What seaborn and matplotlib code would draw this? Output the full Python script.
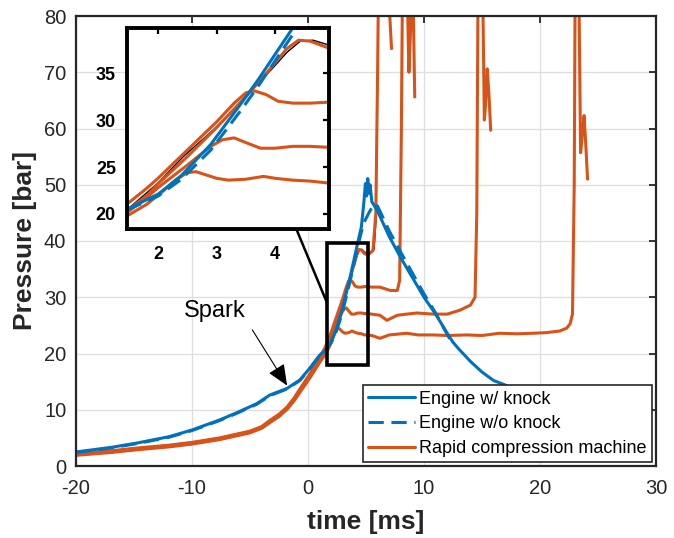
import matplotlib
matplotlib.use("Agg")
import matplotlib.pyplot as plt
import seaborn as sns
from matplotlib.lines import Line2D
from matplotlib.patches import Rectangle

# ---------------- data ----------------
# Engine with knock (solid blue)
t_knock = [-20, -17, -14.7, -12, -10, -7.6, -6, -4.4, -3.3, -1.8, -0.7, 0.2, 1.0, 1.5,
           2.0, 2.4, 2.9, 3.4, 3.7, 4.0, 4.3, 4.6, 4.8, 4.95, 5.05, 5.15, 5.25, 5.35, 5.5,
           6.0, 7.0, 8.0, 9.0, 10.0, 11.0, 12.0, 12.5, 13.0, 14.0, 15.0, 16.0, 17.0, 18.0]
p_knock = [2.5, 3.3, 4.1, 5.2, 6.4, 8.2, 9.6, 11.1, 12.6, 13.8, 15.3, 17.5, 19.7, 20.6,
           22.1, 24.1, 27.4, 31.6, 34.2, 37.0, 39.8, 42.5, 46.5, 50.2, 48.0, 51.1, 48.5, 50.0, 47.0,
           45.3, 40.8, 37.0, 33.5, 30.0, 27.0, 23.6, 22.0, 20.8, 18.6, 16.7, 15.2, 14.4, 13.2]

# Engine without knock (dashed blue)
t_noknock = [-20, -17, -14.7, -12, -10, -7.6, -6, -4.4, -3.3, -1.8, -0.7, 0.2, 1.0, 1.5,
             2.0, 2.4, 2.9, 3.4, 3.7, 4.0, 4.3, 4.6, 4.9, 5.3, 5.7, 6.0,
             7.0, 8.0, 9.0, 10.0, 11.0, 12.0, 12.3]
p_noknock = [2.4, 3.2, 4.0, 5.1, 6.3, 8.1, 9.5, 11.0, 12.5, 13.7, 15.2, 17.4, 19.6, 20.5,
             21.9, 23.7, 26.8, 30.9, 33.5, 36.3, 39.1, 41.6, 43.6, 45.2, 46.6, 46.2,
             41.8, 38.0, 34.3, 30.6, 27.2, 23.4, 22.3]

# Rapid compression machine runs (orange)
t_rcm1 = [-20, -17, -14.7, -12, -10, -7.6, -5, -4, -3.3, -2.5, -1.8, -1.2, -0.7, 0.2, 1.0, 1.5,
          1.8, 2.1, 2.3, 2.5, 2.65, 2.8, 3.0, 3.2, 3.5, 3.8, 4.0, 4.3, 4.6, 4.9,
          5.5, 6.2, 7.0, 8.5, 9.5, 10.8, 12.0, 13.7, 15.0, 16.5, 18.0, 19.4, 20.5,
          21.7, 22.3, 22.6, 22.8, 22.95, 23.1, 23.3, 23.5, 23.65, 23.8, 23.95, 24.1]
p_rcm1 = [1.9, 2.4, 2.9, 3.4, 3.9, 4.7, 5.9, 6.7, 7.7, 8.8, 10.1, 11.6, 13.1, 15.8, 18.4, 19.9,
          21.0, 22.5, 23.6, 24.4, 24.5, 24.2, 23.8, 23.6, 23.7, 24.0, 23.8, 23.6, 23.5, 23.3,
          23.2, 22.7, 23.3, 23.6, 23.3, 23.3, 23.2, 23.3, 23.2, 23.6, 23.5, 23.6, 23.7,
          24.0, 24.5, 25.3, 27.0, 50.0, 115.0, 95.0, 55.7, 59.0, 62.3, 57.0, 51.0]

t_rcm2 = [-20, -17, -14.7, -12, -10, -7.6, -5, -4, -3.3, -2.5, -1.8, -1.2, -0.7, 0.2, 1.0, 1.5,
          1.8, 2.0, 2.5, 2.9, 3.1, 3.3, 3.5, 3.75, 4.0, 4.3, 4.6, 4.9,
          5.5, 6.2, 6.8, 7.7, 8.5, 9.4, 10.8, 12.0, 13.1, 14.0, 14.4,
          14.55, 14.7, 14.85, 15.0, 15.2, 15.3, 15.45, 15.6, 15.75]
p_rcm2 = [2.0, 2.5, 3.0, 3.5, 4.0, 4.8, 6.0, 6.8, 7.8, 8.9, 10.2, 11.7, 13.2, 15.9, 18.6, 20.3,
          21.7, 22.8, 25.2, 27.2, 27.9, 28.1, 27.6, 27.0, 27.0, 27.2, 27.2, 27.1,
          27.0, 26.8, 25.9, 26.8, 27.0, 27.2, 27.0, 27.0, 27.7, 28.6, 30.0,
          45.0, 100.0, 110.0, 95.0, 61.5, 64.0, 70.6, 66.0, 59.7]

t_rcm3 = [-20, -17, -14.7, -12, -10, -7.6, -5, -4, -3.3, -2.5, -1.8, -1.2, -0.7, 0.2, 1.0, 1.5,
          1.8, 2.0, 2.5, 3.0, 3.3, 3.5, 3.65, 3.85, 4.05, 4.3, 4.6, 4.9,
          5.5, 6.2, 7.1, 7.7, 7.9, 8.05, 8.2, 8.4, 8.55, 8.7, 8.85, 8.95, 9.05, 9.2]
p_rcm3 = [2.2, 2.7, 3.2, 3.7, 4.2, 5.0, 6.2, 7.0, 8.1, 9.2, 10.5, 12.1, 13.7, 16.5, 19.2, 21.2,
          22.7, 23.8, 26.8, 29.8, 31.8, 32.9, 33.1, 32.7, 32.0, 31.8, 31.8, 31.9,
          31.8, 31.8, 31.2, 31.2, 33.0, 60.0, 100.0, 110.0, 85.0, 70.0, 78.0, 95.0, 85.0, 65.6]

t_rcm4 = [-20, -17, -14.7, -12, -10, -7.6, -5, -4, -3.3, -2.5, -1.8, -1.2, -0.7, 0.2, 1.0, 1.5,
          1.8, 2.0, 2.5, 3.0, 3.5, 3.8, 4.0, 4.2, 4.4, 4.6, 4.9,
          5.2, 5.6, 5.85, 6.0, 6.15, 6.6, 7.05, 7.2]
p_rcm4 = [2.1, 2.6, 3.1, 3.6, 4.1, 4.9, 6.1, 6.9, 7.9, 9.0, 10.3, 11.8, 13.4, 16.1, 18.8, 20.5,
          21.9, 23.2, 26.1, 29.2, 32.5, 34.6, 36.1, 37.6, 38.5, 38.4, 37.7,
          37.6, 38.3, 45.0, 70.0, 100.0, 110.0, 80.0, 74.2]

# thin black trace visible in the zoom
t_black = [1.5, 2.0, 2.43, 2.9, 3.29, 3.6, 3.97, 4.2, 4.43, 4.65, 4.91, 5.3, 5.7, 5.9]
p_black = [20.6, 23.3, 26.1, 28.7, 31.0, 33.2, 35.6, 37.2, 38.4, 38.5, 38.0, 37.8, 38.5, 45.0]

legend_labels = ["Engine w/ knock", "Engine w/o knock", "Rapid compression machine"]
x_ticks = [-20, -10, 0, 10, 20, 30]
y_ticks = [0, 10, 20, 30, 40, 50, 60, 70, 80]
inset_x_ticks = [2, 3, 4]
inset_y_ticks = [20, 25, 30, 35]

# ---------------- styling ----------------
sns.set_theme(style="white")
plt.rcParams["font.family"] = ["Liberation Sans", "DejaVu Sans"]
plt.rcParams["axes.unicode_minus"] = False

BLUE = "#0072BD"
ORANGE = "#D95319"
DARK = "#262626"
LW = 2.2
DASH = (0, (5, 2.5))

fig = plt.figure(figsize=(6.74, 5.38), dpi=100)
ax = fig.add_axes([76 / 674, 1 - 466 / 538, 580 / 674, 450 / 538])


def draw_all(a):
    sns.lineplot(x=t_black, y=p_black, ax=a, sort=False, estimator=None,
                 color="black", lw=1.0, legend=False)
    for t, p in [(t_rcm1, p_rcm1), (t_rcm2, p_rcm2), (t_rcm3, p_rcm3), (t_rcm4, p_rcm4)]:
        sns.lineplot(x=t, y=p, ax=a, sort=False, estimator=None,
                     color=ORANGE, lw=LW, legend=False)
    sns.lineplot(x=t_knock, y=p_knock, ax=a, sort=False, estimator=None,
                 color=BLUE, lw=LW, legend=False)
    sns.lineplot(x=t_noknock, y=p_noknock, ax=a, sort=False, estimator=None,
                 color=BLUE, lw=LW, linestyle=DASH, legend=False)


draw_all(ax)

ax.set_xlim(-20, 30)
ax.set_ylim(0, 80)
ax.set_xticks(x_ticks)
ax.set_yticks(y_ticks)
ax.grid(True, color="#dedede", lw=0.9)
ax.set_axisbelow(True)
ax.tick_params(direction="in", top=True, right=True, length=5, width=1.3,
               colors=DARK, labelsize=14.5, labelcolor=DARK)
ax.tick_params(axis="x", pad=9)
ax.tick_params(axis="y", pad=7)
for s in ax.spines.values():
    s.set_linewidth(1.6)
    s.set_color(DARK)
ax.set_xlabel("time [ms]", fontsize=19, fontweight="bold", color=DARK, labelpad=9)
ax.set_ylabel("Pressure [bar]", fontsize=19, fontweight="bold", color=DARK, labelpad=5)

# zoom rectangle + connector
ax.add_patch(Rectangle((1.64, 17.9), 5.17 - 1.64, 39.6 - 17.9, fill=False,
                       ec="black", lw=2.6, zorder=6))
ax.plot([-1.0, 1.64], [42.1, 29.0], color="black", lw=1.8, zorder=6, clip_on=False)

# spark annotation
ax.text(-8.0, 27.6, "Spark", fontsize=17, ha="center", va="center", color="black")
ax.annotate("", xy=(-1.8, 14.3), xytext=(-4.8, 24.2),
            arrowprops=dict(arrowstyle="-|>,head_length=0.65,head_width=0.28",
                            color="black", lw=0.8, mutation_scale=20,
                            shrinkA=0, shrinkB=0))

# legend
handles = [Line2D([], [], color=BLUE, lw=LW),
           Line2D([], [], color=BLUE, lw=LW, linestyle=DASH),
           Line2D([], [], color=ORANGE, lw=LW)]
leg = ax.legend(handles, legend_labels, loc="lower right", frameon=True, fancybox=False,
                framealpha=1, edgecolor=DARK, fontsize=13, handlelength=2.6,
                handletextpad=0.25, borderpad=0.3, labelspacing=0.42, borderaxespad=0.2)
leg.get_frame().set_linewidth(1.2)
leg.set_zorder(10)
for txt in leg.get_texts():
    txt.set_color("black")

# inset
axin = fig.add_axes([127 / 674, 1 - 229 / 538, 202 / 674, 201 / 538])
axin.set_facecolor("white")
draw_all(axin)
axin.set_xlim(1.47, 4.92)
axin.set_ylim(18.4, 39.8)
axin.set_xticks(inset_x_ticks)
axin.set_yticks(inset_y_ticks)
axin.grid(False)
axin.set_xlabel("")
axin.set_ylabel("")
axin.tick_params(direction="in", top=True, right=True, length=4, width=1.6,
                 colors="black", labelsize=13, pad=8)
axin.tick_params(axis="x", pad=12)
for lab in axin.get_xticklabels() + axin.get_yticklabels():
    lab.set_fontweight("bold")
for s in axin.spines.values():
    s.set_linewidth(2.8)
    s.set_color("black")

fig.savefig("out.png", dpi=100)
